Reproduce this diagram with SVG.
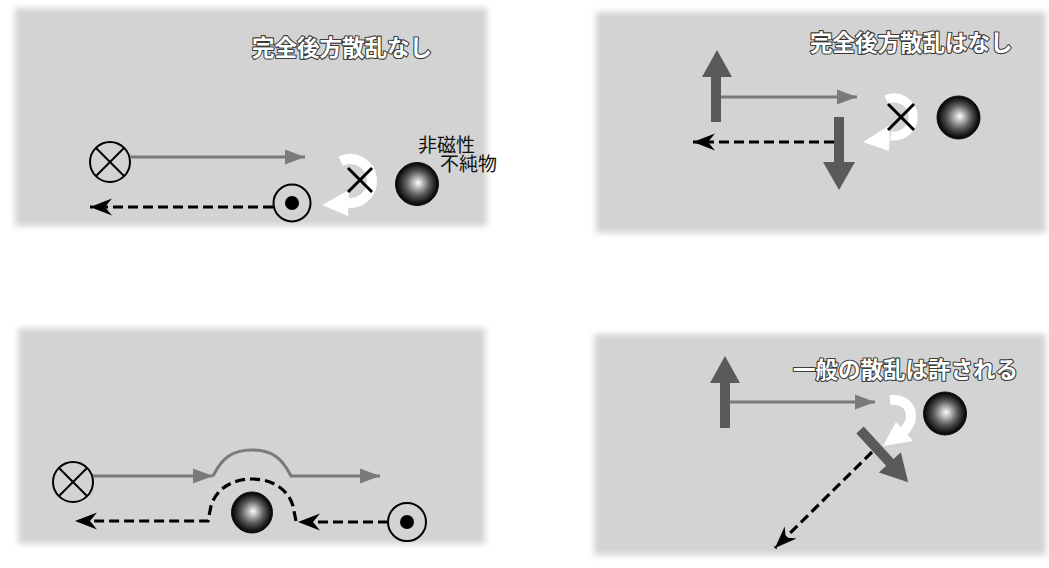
<svg xmlns="http://www.w3.org/2000/svg" width="1049" height="568" viewBox="0 0 1049 568">
  <defs>
    <style>
      .panel{fill:#d3d3d3;filter:url(#soft)}
      .title{font-family:"Noto Sans CJK JP","Noto Sans",sans-serif;font-size:22.5px;font-weight:700;fill:#fff;stroke:#3a3a3a;stroke-width:2.2px;paint-order:stroke;stroke-linejoin:round}
      .label{font-family:"Noto Sans CJK JP","Noto Sans",sans-serif;font-size:19px;fill:#111}
      .thin{fill:none;stroke:#7a7a7a;stroke-width:3;marker-end:url(#grayHead)}
      .dash{fill:none;stroke:#000;stroke-width:3.2;stroke-dasharray:10 5;marker-end:url(#blackHead)}
      .thick{fill:#5a5a5a}
      .turn{fill:none;stroke:#fff;stroke-width:10}
      .turnHead{fill:#fff}
      .ring{fill:none;stroke:#000;stroke-width:2}
      .cross{stroke:#000;stroke-width:3;stroke-linecap:butt}
      .ball{fill:url(#ball);stroke:#111;stroke-width:1}
    </style>
    <filter id="soft" x="-5%" y="-8%" width="110%" height="116%">
      <feGaussianBlur stdDeviation="3"/>
    </filter>
    <radialGradient id="ball" cx="0.5" cy="0.5" r="0.5" fx="0.53" fy="0.47">
      <stop offset="0" stop-color="#ffffff"/>
      <stop offset="0.15" stop-color="#d0d0d0"/>
      <stop offset="0.55" stop-color="#5c5c5c"/>
      <stop offset="0.85" stop-color="#1c1c1c"/>
      <stop offset="1" stop-color="#000"/>
    </radialGradient>
    <marker id="grayHead" markerUnits="userSpaceOnUse" viewBox="-2 -10 24 20" markerWidth="24" markerHeight="20" refX="20" refY="0" orient="auto">
      <path d="M0,-7.5 L20,0 L0,7.5 Z" fill="#7a7a7a"/>
    </marker>
    <marker id="blackHead" markerUnits="userSpaceOnUse" viewBox="-2 -11 26 22" markerWidth="26" markerHeight="22" refX="22" refY="0" orient="auto">
      <path d="M0,-8.5 L22,0 L0,8.5 L7,0 Z" fill="#000"/>
    </marker>
  </defs>

  <rect width="1049" height="568" fill="#fff"/>

  <!-- background panels -->
  <g id="panels">
    <rect class="panel" x="15" y="8" width="472" height="218"/>
    <rect class="panel" x="596" y="12" width="450" height="221"/>
    <rect class="panel" x="18" y="328" width="467" height="216"/>
    <rect class="panel" x="594" y="334" width="452" height="221"/>
  </g>

  <!-- titles -->
  <g id="titles">
    <text class="title" x="252" y="56">完全後方散乱なし</text>
    <text class="title" x="810" y="51">完全後方散乱はなし</text>
    <text class="title" x="793" y="378">一般の散乱は許される</text>
  </g>

  <!-- impurity label, two lines -->
  <g id="impurity-label">
    <text class="label" x="418" y="152">非磁性<tspan x="440" y="171">不純物</tspan></text>
  </g>

  <!-- spin markers -->
  <g id="spin-in-1">
    <circle class="ring" cx="110" cy="162" r="20"/>
    <line class="cross" x1="96" y1="148" x2="124" y2="176" style="stroke-width:2"/>
    <line class="cross" x1="124" y1="148" x2="96" y2="176" style="stroke-width:2"/>
  </g>
  <g id="spin-out-1">
    <circle class="ring" cx="292" cy="203" r="18.5"/>
    <circle cx="292" cy="203" r="7" fill="#000"/>
  </g>
  <g id="spin-in-3">
    <circle class="ring" cx="73" cy="482" r="20"/>
    <line class="cross" x1="59" y1="468" x2="87" y2="496" style="stroke-width:2"/>
    <line class="cross" x1="87" y1="468" x2="59" y2="496" style="stroke-width:2"/>
  </g>
  <g id="spin-out-3">
    <circle class="ring" cx="407" cy="522" r="19"/>
    <circle cx="407" cy="522" r="7" fill="#000"/>
  </g>

  <!-- thick spin arrows -->
  <g id="spin-up-2">
    <rect class="thick" x="711" y="75" width="10" height="47"/>
    <polygon class="thick" points="702,77 717,50 732,77"/>
  </g>
  <g id="spin-down-2">
    <rect class="thick" x="834" y="117" width="10" height="47"/>
    <polygon class="thick" points="823,162 839,190 855,162"/>
  </g>
  <g id="spin-up-4">
    <rect class="thick" x="720" y="381" width="10" height="47"/>
    <polygon class="thick" points="710,383 725,356 740,383"/>
  </g>
  <g id="spin-diag-4" transform="translate(860 430) rotate(47.3)">
    <rect class="thick" x="0" y="-5" width="45" height="10"/>
    <polygon class="thick" points="44,-15 71,0 44,15"/>
  </g>

  <!-- impurities -->
  <g id="impurity-1"><circle class="ball" cx="417" cy="184" r="21.5"/></g>
  <g id="impurity-2"><circle class="ball" cx="958.5" cy="117.5" r="21.5"/></g>
  <g id="impurity-3"><circle class="ball" cx="252" cy="512.5" r="20.5"/></g>
  <g id="impurity-4"><circle class="ball" cx="945" cy="413.5" r="21.5"/></g>

  <!-- scattering turns -->
  <g id="turn-1">
    <path class="turn" d="M340.7,161.1 A22,22 0 1 1 346.2,202.7"/>
    <polygon class="turnHead" points="349,190 348,216 322,205"/>
    <line class="cross" x1="348" y1="168" x2="372" y2="192"/>
    <line class="cross" x1="372" y1="168" x2="348" y2="192"/>
  </g>
  <g id="turn-2">
    <path class="turn" d="M886.3,99.7 A19,19 0 1 1 890.7,135.7" style="stroke-width:9"/>
    <polygon class="turnHead" points="890,125 889,151 863,142"/>
    <line class="cross" x1="888" y1="104" x2="914" y2="130"/>
    <line class="cross" x1="914" y1="104" x2="888" y2="130"/>
  </g>
  <g id="turn-4">
    <path class="turn" d="M890,400 C911,398 918,418 903,432" style="stroke-width:10"/>
    <polygon class="turnHead" points="883,446 913,441 896,422"/>
  </g>

  <!-- trajectories -->
  <g id="connectors">
    <path class="thin" d="M130,157 L305,157"/>
    <path class="dash" d="M273,207 L90,207"/>

    <path class="thin" d="M721,97 L857,97"/>
    <path class="dash" d="M834,142 L693,142"/>

    <path class="thin" d="M93,476 L213,476"/>
    <path class="thin" d="M213,476 C222,458 232,450 252,450 C272,450 282,458 291,476 L380,476"/>
    <path class="dash" d="M388,522 L298,522"/>
    <path class="dash" d="M296,521 L293,506 C288,489 272,479 252,479 C232,479 216,489 211,506 L208,521 L75,521"/>

    <path class="thin" d="M730,402 L875,402"/>
    <path class="dash" d="M872,452 L775,548"/>
  </g>
</svg>
